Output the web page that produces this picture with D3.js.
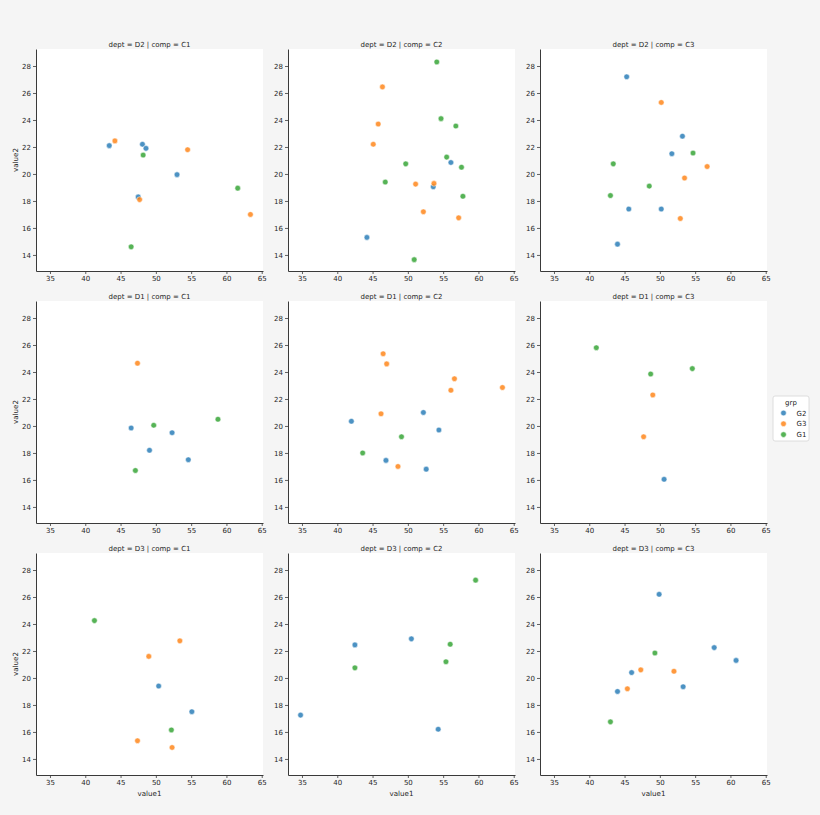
<!DOCTYPE html>
<html>
<head>
<meta charset="utf-8">
<script src="https://cdn.jsdelivr.net/npm/d3@7"></script>
<style>
  body { margin: 0; background: #f5f5f5; }
  text { font-family: "DejaVu Sans", sans-serif; fill: #262626; }
</style>
</head>
<body>
<div id="chart"></div>
<script>
// facet order as drawn (rows = dept, cols = comp)
var depts = ["D2", "D1", "D3"];
var comps = ["C1", "C2", "C3"];
var groups = ["G2", "G3", "G1"];
var colors = ["#1f77b4", "#ff7f0e", "#2ca02c"];

var xTicks = [35, 40, 45, 50, 55, 60, 65];
var yTicks = [14, 16, 18, 20, 22, 24, 26, 28];

// [dept, comp, value1, value2]
var g2Points = [
  ["D2", "C1", 43.4, 22.1], ["D2", "C1", 48.1, 22.2], ["D2", "C1", 48.6, 21.9],
  ["D2", "C1", 53.0, 19.95], ["D2", "C1", 47.5, 18.3],
  ["D2", "C2", 56.1, 20.85], ["D2", "C2", 53.6, 19.05], ["D2", "C2", 44.2, 15.3],
  ["D2", "C3", 45.3, 27.2], ["D2", "C3", 53.2, 22.8], ["D2", "C3", 51.7, 21.5],
  ["D2", "C3", 45.6, 17.4], ["D2", "C3", 50.2, 17.4], ["D2", "C3", 44.0, 14.8],
  ["D1", "C1", 46.5, 19.85], ["D1", "C1", 52.3, 19.5], ["D1", "C1", 49.1, 18.2],
  ["D1", "C1", 54.6, 17.5],
  ["D1", "C2", 42.0, 20.35], ["D1", "C2", 52.2, 21.0], ["D1", "C2", 54.4, 19.7],
  ["D1", "C2", 46.9, 17.45], ["D1", "C2", 52.6, 16.8],
  ["D1", "C3", 50.6, 16.05],
  ["D3", "C1", 50.4, 19.4], ["D3", "C1", 55.1, 17.5],
  ["D3", "C2", 42.5, 22.45], ["D3", "C2", 50.5, 22.9], ["D3", "C2", 34.8, 17.25],
  ["D3", "C2", 54.3, 16.2],
  ["D3", "C3", 49.9, 26.2], ["D3", "C3", 57.7, 22.25], ["D3", "C3", 60.8, 21.3],
  ["D3", "C3", 46.0, 20.4], ["D3", "C3", 53.3, 19.35], ["D3", "C3", 44.0, 19.0]
];

var g3Points = [
  ["D2", "C1", 44.2, 22.45], ["D2", "C1", 54.5, 21.8], ["D2", "C1", 47.7, 18.1],
  ["D2", "C1", 63.4, 17.0],
  ["D2", "C2", 46.4, 26.45], ["D2", "C2", 45.8, 23.7], ["D2", "C2", 45.1, 22.2],
  ["D2", "C2", 51.1, 19.25], ["D2", "C2", 53.7, 19.3], ["D2", "C2", 52.2, 17.2],
  ["D2", "C2", 57.2, 16.75],
  ["D2", "C3", 50.2, 25.3], ["D2", "C3", 56.7, 20.55], ["D2", "C3", 53.5, 19.7],
  ["D2", "C3", 52.9, 16.7],
  ["D1", "C1", 47.4, 24.65],
  ["D1", "C2", 46.5, 25.35], ["D1", "C2", 47.0, 24.6], ["D1", "C2", 56.6, 23.5],
  ["D1", "C2", 56.1, 22.65], ["D1", "C2", 63.4, 22.85], ["D1", "C2", 46.2, 20.9],
  ["D1", "C2", 48.6, 17.0],
  ["D1", "C3", 49.0, 22.3], ["D1", "C3", 47.7, 19.2],
  ["D3", "C1", 53.4, 22.75], ["D3", "C1", 49.0, 21.6], ["D3", "C1", 47.4, 15.35],
  ["D3", "C1", 52.3, 14.85],
  ["D3", "C3", 47.3, 20.6], ["D3", "C3", 52.0, 20.5], ["D3", "C3", 45.4, 19.2]
];

var g1Points = [
  ["D2", "C1", 48.2, 21.4], ["D2", "C1", 61.6, 18.95], ["D2", "C1", 46.5, 14.6],
  ["D2", "C2", 54.1, 28.3], ["D2", "C2", 54.7, 24.1], ["D2", "C2", 56.8, 23.55],
  ["D2", "C2", 55.5, 21.25], ["D2", "C2", 49.7, 20.75], ["D2", "C2", 57.6, 20.5],
  ["D2", "C2", 46.8, 19.4], ["D2", "C2", 57.8, 18.35], ["D2", "C2", 50.9, 13.65],
  ["D2", "C3", 54.7, 21.55], ["D2", "C3", 43.4, 20.75], ["D2", "C3", 48.5, 19.1],
  ["D2", "C3", 43.0, 18.4],
  ["D1", "C1", 49.7, 20.05], ["D1", "C1", 58.8, 20.5], ["D1", "C1", 47.1, 16.7],
  ["D1", "C2", 49.1, 19.2], ["D1", "C2", 43.6, 18.0],
  ["D1", "C3", 41.0, 25.8], ["D1", "C3", 48.7, 23.85], ["D1", "C3", 54.6, 24.25],
  ["D3", "C1", 41.3, 24.25], ["D3", "C1", 52.2, 16.15],
  ["D3", "C2", 59.6, 27.25], ["D3", "C2", 56.0, 22.5], ["D3", "C2", 55.4, 21.2],
  ["D3", "C2", 42.5, 20.75],
  ["D3", "C3", 49.3, 21.85], ["D3", "C3", 43.0, 16.75]
];

var svgWidth = 820;
var svgHeight = 815;

var panel = { left: 36, top: 49, width: 227, height: 222, step: 252 };

var svg = d3.select("#chart")
  .append("svg")
  .attr("width", svgWidth)
  .attr("height", svgHeight)
  .style("display", "block");

svg.append("rect")
  .attr("width", svgWidth)
  .attr("height", svgHeight)
  .attr("fill", "#f5f5f5");

// shared scales
var xScale = d3.scaleLinear().domain([33.02, 65.18]).range([0, panel.width]);
var yScale = d3.scaleLinear().domain([12.81, 29.26]).range([panel.height, 0]);
var colorScale = d3.scaleOrdinal().domain(groups).range(colors);

// flatten points with group tag
var allPoints = [];
[g2Points, g3Points, g1Points].forEach(function(pts, i) {
  pts.forEach(function(p) {
    allPoints.push({ grp: groups[i], dept: p[0], comp: p[1], value1: p[2], value2: p[3] });
  });
});

depts.forEach(function(dept, r) {
  comps.forEach(function(comp, c) {
    var g = svg.append("g")
      .attr("transform", `translate(${panel.left + c * panel.step}, ${panel.top + r * panel.step})`);

    g.append("rect")
      .attr("width", panel.width)
      .attr("height", panel.height)
      .attr("fill", "white");

    // Axes //
    var bottomAxis = d3.axisBottom(xScale).tickValues(xTicks).tickSize(3).tickPadding(2).tickSizeOuter(0);
    var leftAxis = d3.axisLeft(yScale).tickValues(yTicks).tickSize(3).tickPadding(2).tickSizeOuter(0);

    var xg = g.append("g")
      .attr("transform", `translate(0, ${panel.height})`)
      .call(bottomAxis);
    var yg = g.append("g").call(leftAxis);

    [xg, yg].forEach(function(ax) {
      ax.select(".domain").attr("stroke", "#3a3a3a").attr("stroke-width", 1);
      ax.selectAll(".tick line").attr("stroke", "#3a3a3a").attr("stroke-width", 0.8);
      ax.selectAll(".tick text")
        .attr("font-size", 7)
        .attr("font-family", "DejaVu Sans, sans-serif")
        .attr("fill", "#262626");
    });

    // facet title //
    g.append("text")
      .attr("x", panel.width / 2)
      .attr("y", -2.5)
      .attr("text-anchor", "middle")
      .attr("font-size", 7)
      .text(`dept = ${dept} | comp = ${comp}`);

    // Circles //
    g.selectAll("circle")
      .data(allPoints.filter(d => d.dept === dept && d.comp === comp))
      .enter()
      .append("circle")
      .attr("cx", d => xScale(d.value1))
      .attr("cy", d => yScale(d.value2))
      .attr("r", 2.8)
      .attr("fill", d => colorScale(d.grp))
      .attr("fill-opacity", 0.8)
      .attr("stroke", "white")
      .attr("stroke-width", 0.5);

    if (c === 0) {
      g.append("text")
        .attr("transform", "rotate(-90)")
        .attr("x", -panel.height / 2)
        .attr("y", -18.5)
        .attr("text-anchor", "middle")
        .attr("font-size", 7.1)
        .text("value2");
    }
    if (r === depts.length - 1) {
      g.append("text")
        .attr("x", panel.width / 2)
        .attr("y", panel.height + 21)
        .attr("text-anchor", "middle")
        .attr("font-size", 7.1)
        .text("value1");
    }
  });
});

// Legend //
var legend = svg.append("g").attr("transform", "translate(773, 396)");

legend.append("rect")
  .attr("width", 36)
  .attr("height", 45)
  .attr("rx", 2)
  .attr("fill", "white")
  .attr("stroke", "#d6d6d6")
  .attr("stroke-width", 0.8);

legend.append("text")
  .attr("x", 18)
  .attr("y", 8.5)
  .attr("text-anchor", "middle")
  .attr("font-size", 7)
  .text("grp");

groups.forEach(function(grp, i) {
  legend.append("circle")
    .attr("cx", 10.5)
    .attr("cy", 17 + i * 10.8)
    .attr("r", 2.8)
    .attr("fill", colorScale(grp))
    .attr("fill-opacity", 0.8)
    .attr("stroke", "white")
    .attr("stroke-width", 0.5);
  legend.append("text")
    .attr("x", 23.5)
    .attr("y", 19.5 + i * 10.8)
    .attr("font-size", 7)
    .text(grp);
});
</script>
</body>
</html>
